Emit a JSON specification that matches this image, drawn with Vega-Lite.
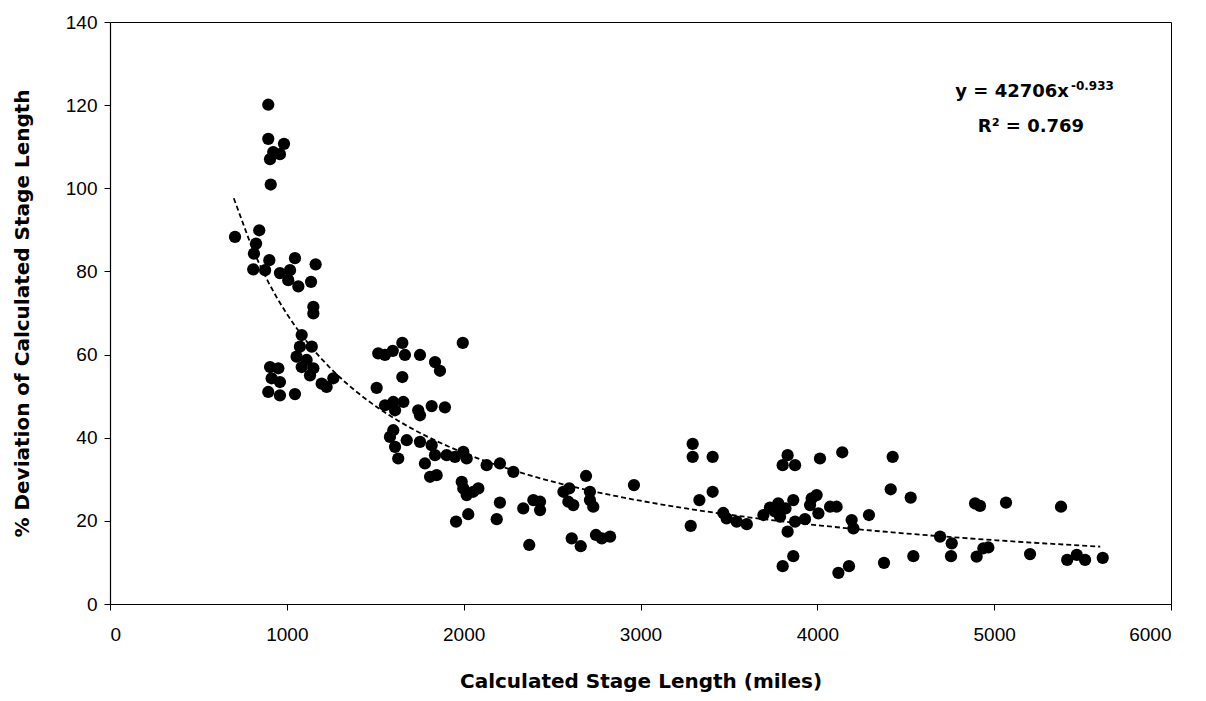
{
  "$schema": "https://vega.github.io/schema/vega-lite/v6.json",
  "width": 1061,
  "height": 582,
  "autosize": {"type": "none"},
  "padding": {"left": 110, "top": 22, "right": 35, "bottom": 97},
  "background": "white",
  "config": {
    "view": {"stroke": "#000", "strokeWidth": 1},
    "axis": {
      "domainColor": "#000",
      "domainWidth": 1.2,
      "tickColor": "#000",
      "tickSize": 6,
      "grid": false,
      "format": "d",
      "labelFont": "Liberation Sans",
      "labelFontSize": 19,
      "labelColor": "#000",
      "titleFont": "DejaVu Sans",
      "titleFontWeight": "bold",
      "titleFontSize": 20,
      "titleColor": "#000"
    }
  },
  "datasets": {
    "stages": [
      {"len": 895, "dev": 120.1}, {"len": 895, "dev": 111.9}, {"len": 984, "dev": 110.7}, {"len": 923, "dev": 108.7},
      {"len": 961, "dev": 108.2}, {"len": 905, "dev": 107.0}, {"len": 909, "dev": 100.9},
      {"len": 707, "dev": 88.3}, {"len": 844, "dev": 89.9}, {"len": 826, "dev": 86.7}, {"len": 814, "dev": 84.3},
      {"len": 901, "dev": 82.7}, {"len": 1046, "dev": 83.2}, {"len": 1163, "dev": 81.7}, {"len": 810, "dev": 80.5},
      {"len": 877, "dev": 80.3}, {"len": 961, "dev": 79.6}, {"len": 1018, "dev": 80.3}, {"len": 1008, "dev": 77.9},
      {"len": 1065, "dev": 76.4}, {"len": 1137, "dev": 77.5}, {"len": 1150, "dev": 71.5}, {"len": 1150, "dev": 69.9},
      {"len": 1084, "dev": 64.7}, {"len": 1074, "dev": 61.9}, {"len": 1141, "dev": 61.9}, {"len": 1055, "dev": 59.5},
      {"len": 1112, "dev": 58.7}, {"len": 1084, "dev": 57.0}, {"len": 1150, "dev": 56.7}, {"len": 1131, "dev": 55.0},
      {"len": 1197, "dev": 53.0}, {"len": 1263, "dev": 54.3}, {"len": 1225, "dev": 52.2}, {"len": 905, "dev": 57.0},
      {"len": 952, "dev": 56.7}, {"len": 914, "dev": 54.3}, {"len": 961, "dev": 53.4}, {"len": 895, "dev": 51.0},
      {"len": 961, "dev": 50.2}, {"len": 1046, "dev": 50.5},
      {"len": 1517, "dev": 60.3}, {"len": 1555, "dev": 59.9}, {"len": 1599, "dev": 60.9}, {"len": 1653, "dev": 62.8},
      {"len": 1668, "dev": 59.9}, {"len": 1753, "dev": 59.9}, {"len": 1838, "dev": 58.2}, {"len": 1866, "dev": 56.1},
      {"len": 1995, "dev": 62.8}, {"len": 1653, "dev": 54.6}, {"len": 1508, "dev": 52.0}, {"len": 1555, "dev": 47.8},
      {"len": 1602, "dev": 48.6}, {"len": 1659, "dev": 48.6}, {"len": 1612, "dev": 46.6}, {"len": 1743, "dev": 46.6},
      {"len": 1753, "dev": 45.4}, {"len": 1819, "dev": 47.6}, {"len": 1894, "dev": 47.3},
      {"len": 1602, "dev": 41.8}, {"len": 1583, "dev": 40.2}, {"len": 1612, "dev": 37.8}, {"len": 1630, "dev": 35.0},
      {"len": 1678, "dev": 39.4}, {"len": 1753, "dev": 39.0}, {"len": 1819, "dev": 38.2}, {"len": 1838, "dev": 35.8},
      {"len": 1904, "dev": 35.8}, {"len": 1951, "dev": 35.4}, {"len": 1998, "dev": 36.6}, {"len": 2017, "dev": 35.0},
      {"len": 1781, "dev": 33.8}, {"len": 1810, "dev": 30.6}, {"len": 1847, "dev": 31.0}, {"len": 1989, "dev": 29.4},
      {"len": 1998, "dev": 27.8}, {"len": 2017, "dev": 26.2}, {"len": 2054, "dev": 27.0}, {"len": 2083, "dev": 27.8},
      {"len": 2026, "dev": 21.6}, {"len": 1957, "dev": 19.8},
      {"len": 2130, "dev": 33.4}, {"len": 2205, "dev": 33.8}, {"len": 2281, "dev": 31.8}, {"len": 2187, "dev": 20.4},
      {"len": 2205, "dev": 24.4}, {"len": 2337, "dev": 23.0}, {"len": 2394, "dev": 25.0}, {"len": 2432, "dev": 24.6},
      {"len": 2432, "dev": 22.6}, {"len": 2371, "dev": 14.2}, {"len": 2564, "dev": 27.0}, {"len": 2592, "dev": 24.6},
      {"len": 2597, "dev": 27.8}, {"len": 2620, "dev": 23.8}, {"len": 2692, "dev": 30.8}, {"len": 2714, "dev": 27.0},
      {"len": 2714, "dev": 25.0}, {"len": 2733, "dev": 23.4}, {"len": 2611, "dev": 15.8}, {"len": 2662, "dev": 13.9},
      {"len": 2748, "dev": 16.6}, {"len": 2781, "dev": 15.8}, {"len": 2828, "dev": 16.2}, {"len": 2963, "dev": 28.6},
      {"len": 3295, "dev": 38.5}, {"len": 3295, "dev": 35.4}, {"len": 3408, "dev": 35.4}, {"len": 3408, "dev": 27.0},
      {"len": 3333, "dev": 25.0}, {"len": 3284, "dev": 18.8}, {"len": 3468, "dev": 21.9}, {"len": 3487, "dev": 20.6},
      {"len": 3544, "dev": 19.8}, {"len": 3601, "dev": 19.2}, {"len": 3695, "dev": 21.4}, {"len": 3732, "dev": 23.2},
      {"len": 3760, "dev": 22.3}, {"len": 3779, "dev": 24.2}, {"len": 3789, "dev": 21.0}, {"len": 3820, "dev": 23.0},
      {"len": 3832, "dev": 35.8}, {"len": 3804, "dev": 33.4}, {"len": 3874, "dev": 33.4}, {"len": 3864, "dev": 25.0},
      {"len": 3874, "dev": 19.8}, {"len": 3832, "dev": 17.4}, {"len": 3864, "dev": 11.5}, {"len": 3804, "dev": 9.1},
      {"len": 4015, "dev": 35.0}, {"len": 4141, "dev": 36.5}, {"len": 4426, "dev": 35.4}, {"len": 3968, "dev": 25.4},
      {"len": 3996, "dev": 26.2}, {"len": 3959, "dev": 23.8}, {"len": 4006, "dev": 21.8}, {"len": 4072, "dev": 23.4},
      {"len": 4109, "dev": 23.4}, {"len": 3930, "dev": 20.4}, {"len": 4194, "dev": 20.2}, {"len": 4204, "dev": 18.2},
      {"len": 4292, "dev": 21.4}, {"len": 4415, "dev": 27.6}, {"len": 4528, "dev": 25.6}, {"len": 4119, "dev": 7.5},
      {"len": 4179, "dev": 9.1}, {"len": 4377, "dev": 9.9}, {"len": 4543, "dev": 11.5},
      {"len": 4694, "dev": 16.2}, {"len": 4760, "dev": 14.6}, {"len": 4756, "dev": 11.5}, {"len": 4892, "dev": 24.2},
      {"len": 4920, "dev": 23.6}, {"len": 4901, "dev": 11.4}, {"len": 4939, "dev": 13.4}, {"len": 5067, "dev": 24.4},
      {"len": 5378, "dev": 23.4}, {"len": 4967, "dev": 13.6}, {"len": 5203, "dev": 12.0}, {"len": 5413, "dev": 10.6},
      {"len": 5467, "dev": 11.8}, {"len": 5514, "dev": 10.6}, {"len": 5614, "dev": 11.1}
    ]
  },
  "layer": [
    {
      "data": {"name": "stages"},
      "mark": {"type": "circle", "size": 150, "color": "#000", "opacity": 1},
      "encoding": {
        "x": {
          "field": "len", "type": "quantitative",
          "scale": {"domain": [0, 6000], "nice": false, "zero": true},
          "axis": {"values": [0, 1000, 2000, 3000, 4000, 5000, 6000], "labelPadding": 15, "title": "Calculated Stage Length (miles)", "titlePadding": 27}
        },
        "y": {
          "field": "dev", "type": "quantitative",
          "scale": {"domain": [0, 140], "nice": false},
          "axis": {"values": [0, 20, 40, 60, 80, 100, 120, 140], "labelPadding": 7, "title": "% Deviation of Calculated Stage Length", "titlePadding": 33}
        }
      }
    },
    {
      "data": {"name": "stages"},
      "transform": [{"regression": "dev", "on": "len", "method": "pow", "extent": [700, 5600]}],
      "mark": {"type": "line", "color": "#000", "strokeDash": [5, 3], "strokeWidth": 1.8},
      "encoding": {
        "x": {"field": "len", "type": "quantitative"},
        "y": {"field": "dev", "type": "quantitative"}
      }
    },
    {
      "data": {"values": [{"t": "y = 42706x"}]},
      "mark": {"type": "text", "align": "right", "baseline": "alphabetic", "font": "DejaVu Sans", "fontWeight": "bold", "fontSize": 18, "color": "#000"},
      "encoding": {
        "x": {"datum": 5423, "type": "quantitative"},
        "y": {"datum": 121.9, "type": "quantitative"},
        "text": {"field": "t"}
      }
    },
    {
      "data": {"values": [{"t": "-0.933"}]},
      "mark": {"type": "text", "align": "left", "baseline": "alphabetic", "font": "DejaVu Sans", "fontWeight": "bold", "fontSize": 12, "color": "#000"},
      "encoding": {
        "x": {"datum": 5434, "type": "quantitative"},
        "y": {"datum": 123.6, "type": "quantitative"},
        "text": {"field": "t"}
      }
    },
    {
      "data": {"values": [{"t": "R² = 0.769"}]},
      "mark": {"type": "text", "align": "center", "baseline": "alphabetic", "font": "DejaVu Sans", "fontWeight": "bold", "fontSize": 18, "color": "#000"},
      "encoding": {
        "x": {"datum": 5208, "type": "quantitative"},
        "y": {"datum": 113.6, "type": "quantitative"},
        "text": {"field": "t"}
      }
    }
  ]
}
